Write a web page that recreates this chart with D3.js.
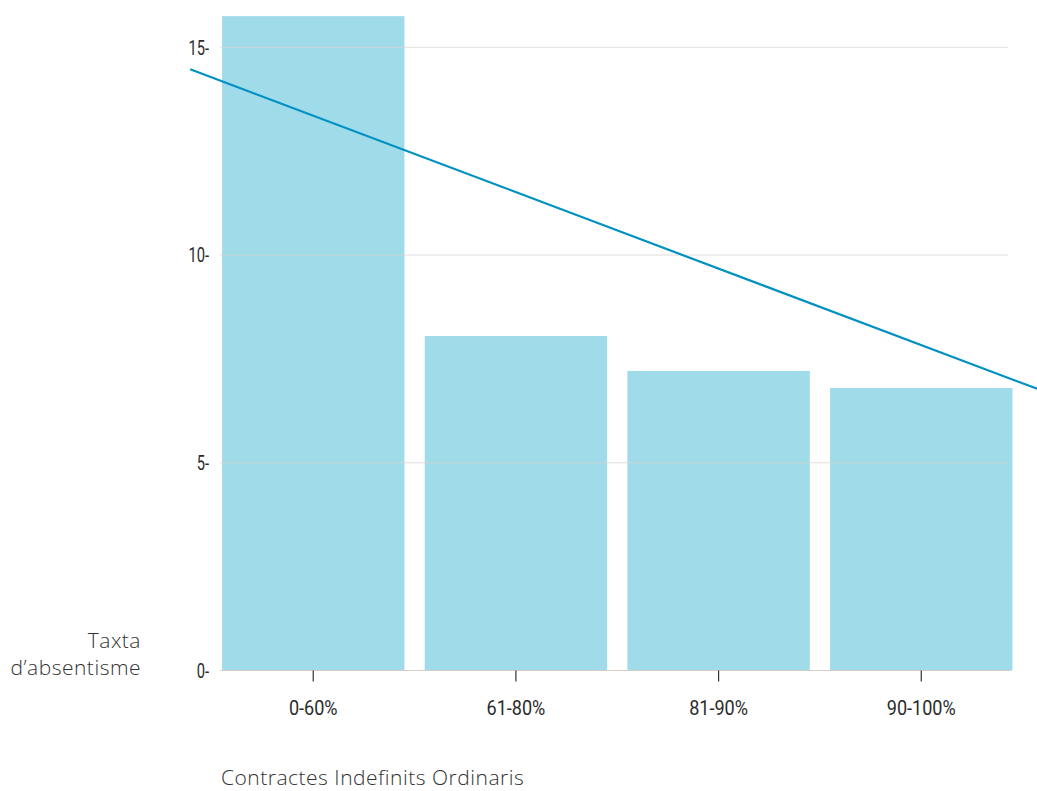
<!DOCTYPE html>
<html>
<head>
<meta charset="utf-8">
<script src="https://cdn.jsdelivr.net/npm/d3@7/dist/d3.min.js"></script>
<style>
  html, body { margin: 0; padding: 0; background: #fff; }
  svg { display: block; }
  .tick-label { font-family: Roboto, "Noto Sans", sans-serif; font-size: 21px; fill: #2b2b2b; }
  .axis-title { font-family: "Open Sans", "Noto Sans", sans-serif; font-weight: 300; font-size: 21px; letter-spacing: 0.5px; fill: #333; }
</style>
</head>
<body>
<svg id="chart" width="1037" height="791"></svg>
<script>
// Absence rate by share of permanent ordinary contracts
const categories = ["0-60%", "61-80%", "81-90%", "90-100%"];
const values = [15.75, 8.05, 7.21, 6.80];
const yTicks = [0, 5, 10, 15];
// Trend line endpoints: position in category units (0 = first category centre) and rate
const trendPos = [-0.607, 3.572];
const trendValues = [14.47, 6.78];

const svg = d3.select("#chart");

const x = d3.scaleBand()
  .domain(categories)
  .range([211.9, 1022.6])
  .paddingInner(0.1)
  .paddingOuter(0.05);

const y = d3.scaleLinear()
  .domain([0, 15])
  .range([670.5, 47.3]);

const xPos = d3.scaleLinear()
  .domain([0, categories.length - 1])
  .range([x(categories[0]) + x.bandwidth() / 2,
          x(categories[categories.length - 1]) + x.bandwidth() / 2]);

// Narrow the tick labels to a condensed look
function condense(sel, k) {
  sel.each(function () {
    const w = this.getComputedTextLength();
    d3.select(this).attr("textLength", w * k).attr("lengthAdjust", "spacingAndGlyphs");
  });
}

// Bars
svg.append("g")
  .selectAll("rect")
  .data(values)
  .join("rect")
  .attr("x", (d, i) => x(categories[i]))
  .attr("width", x.bandwidth())
  .attr("y", d => y(d))
  .attr("height", d => y(0) - y(d))
  .attr("fill", "#a0dbea");

// Horizontal gridlines
svg.append("g")
  .selectAll("line")
  .data(yTicks.filter(t => t > 0))
  .join("line")
  .attr("x1", 220).attr("x2", 1008)
  .attr("y1", d => y(d)).attr("y2", d => y(d))
  .attr("stroke", "#d8d3cf")
  .attr("stroke-opacity", 0.75)
  .attr("stroke-width", 1);

// Baseline
svg.append("line")
  .attr("x1", 220).attr("x2", 1010)
  .attr("y1", y(0)).attr("y2", y(0))
  .attr("stroke", "#d6cdc6")
  .attr("stroke-width", 1.2);

// Y axis (labels only)
const yAxis = svg.append("g")
  .attr("transform", "translate(220,0)")
  .call(d3.axisLeft(y).tickValues(yTicks).tickSize(0).tickPadding(11).tickFormat(d => d + "-"));
yAxis.select(".domain").remove();
yAxis.selectAll("text").attr("class", "tick-label").attr("font-family", null).attr("font-size", null)
  .call(condense, 0.7);

// X axis
const xAxis = svg.append("g")
  .attr("transform", `translate(0,${y(0)})`)
  .call(d3.axisBottom(x).tickSize(11).tickPadding(19));
xAxis.select(".domain").remove();
xAxis.selectAll(".tick line").attr("stroke", "#333").attr("stroke-width", 1.2);
xAxis.selectAll("text").attr("class", "tick-label").attr("font-family", null).attr("font-size", null)
  .call(condense, 0.86);

// Trend line
const trend = trendPos.map((p, i) => [p, trendValues[i]]);
svg.append("path")
  .datum(trend)
  .attr("fill", "none")
  .attr("stroke", "#0091c2")
  .attr("stroke-width", 2.2)
  .attr("d", d3.line().x(d => xPos(d[0])).y(d => y(d[1])));

// Axis titles
const yTitle = svg.append("text")
  .attr("class", "axis-title")
  .attr("text-anchor", "end");
yTitle.append("tspan").attr("x", 141).attr("y", 648).text("Taxta");
yTitle.append("tspan").attr("x", 141).attr("y", 675).text("d\u2019absentisme");

svg.append("text")
  .attr("class", "axis-title")
  .attr("x", 221)
  .attr("y", 785)
  .text("Contractes Indefinits Ordinaris");
</script>
</body>
</html>
